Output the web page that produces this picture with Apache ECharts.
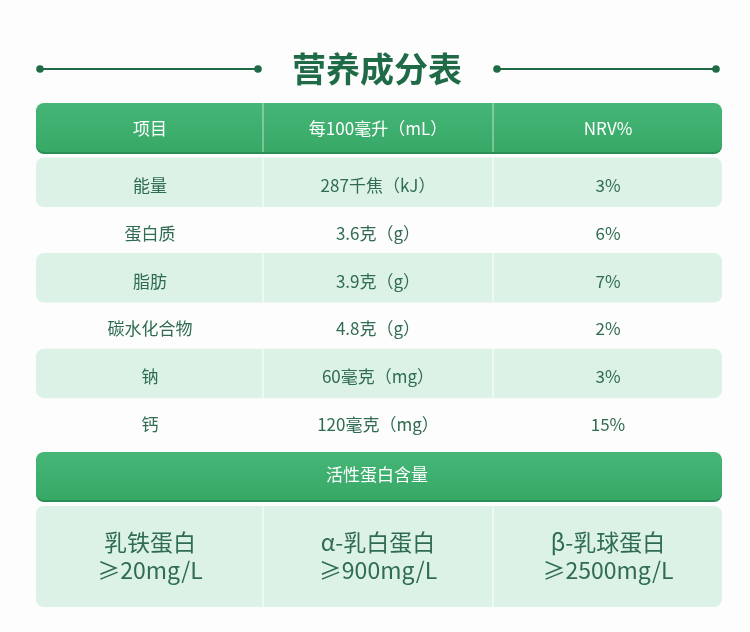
<!DOCTYPE html>
<html><head><meta charset="utf-8">
<script src="https://cdn.jsdelivr.net/npm/echarts@6/dist/echarts.min.js"></script>
<style>html,body{margin:0;padding:0;background:#fcfdfc}#c{width:750px;height:632px}</style>
</head><body><div id="c"></div>
<script>
// ---- data ----
const title = '营养成分表';
const headers = ['项目', '每100毫升（mL）', 'NRV%'];
const items = ['能量', '蛋白质', '脂肪', '碳水化合物', '钠', '钙'];
const per100 = ['287千焦（kJ）', '3.6克（g）', '3.9克（g）', '4.8克（g）', '60毫克（mg）', '120毫克（mg）'];
const nrv = ['3%', '6%', '7%', '2%', '3%', '15%'];
const activeTitle = '活性蛋白含量';
const proteins = ['乳铁蛋白', 'α-乳白蛋白', 'β-乳球蛋白'];
const proteinLevels = ['≥20mg/L', '≥900mg/L', '≥2500mg/L'];

// ---- layout / style ----
const FONT = '"Noto Sans CJK SC", "Noto Sans", sans-serif';
const X0 = 36, X1 = 722, DIV = [263, 493], COLC = [150, 378, 608];
const TXT = '#2f6c51', SHADE = '#dcf2e6', DARK = '#1f6a47';
const chart = echarts.init(document.getElementById('c'));

function greenBar(api, y0, y1) {
  const p0 = api.coord([X0, y0]), p1 = api.coord([X1, y1]);
  const w = p1[0] - p0[0], h = p1[1] - p0[1];
  return [
    { type: 'rect', shape: { x: p0[0], y: p0[1] + 2, width: w, height: h, r: 8 }, style: { fill: '#2a8f56' } },
    { type: 'rect', shape: { x: p0[0], y: p0[1], width: w, height: h, r: 8 },
      style: { fill: new echarts.graphic.LinearGradient(0, 0, 0, 1, [{ offset: 0, color: '#45b676' }, { offset: 1, color: '#37a866' }]) } }
  ];
}
function dividers(api, y0, y1, color, lw) {
  return DIV.map(x => {
    const a = api.coord([x, y0]), b = api.coord([x, y1]);
    return { type: 'line', shape: { x1: a[0], y1: a[1], x2: b[0], y2: b[1] }, style: { stroke: color, lineWidth: lw || 1 } };
  });
}
function txt(api, x, y, s, size, color, weight) {
  const p = api.coord([x, y]);
  return { type: 'text', x: p[0], y: p[1], style: { text: s, fill: color, font: (weight || 'normal') + ' ' + size + 'px ' + FONT, align: 'center', verticalAlign: 'middle' } };
}

const rowC = i => 184.5 + 47.8 * i;

chart.setOption({
  backgroundColor: '#fcfdfc',
  animation: false,
  grid: { left: 0, right: 0, top: 0, bottom: 0 },
  xAxis: { type: 'value', min: 0, max: 750, show: false },
  yAxis: { type: 'value', min: 0, max: 632, inverse: true, show: false },
  series: [
    { // title
      type: 'custom', clip: false, data: [[0]],
      renderItem: (params, api) => {
        const ch = [];
        [[40, 258], [497, 716]].forEach(([a, b]) => {
          const p = api.coord([a, 69]), q = api.coord([b, 69]);
          ch.push({ type: 'line', shape: { x1: p[0], y1: p[1], x2: q[0], y2: q[1] }, style: { stroke: DARK, lineWidth: 2 } });
          ch.push({ type: 'circle', shape: { cx: p[0], cy: p[1], r: 3.8 }, style: { fill: DARK } });
          ch.push({ type: 'circle', shape: { cx: q[0], cy: q[1], r: 3.8 }, style: { fill: DARK } });
        });
        ch.push(txt(api, 377, 69, title, 34, DARK, 'bold'));
        return { type: 'group', children: ch };
      }
    },
    { // header
      type: 'custom', clip: false, data: headers.map((h, i) => [i]),
      renderItem: (params, api) => {
        const i = api.value(0);
        let ch = [];
        if (i === 0) ch = ch.concat(greenBar(api, 103, 152), dividers(api, 103, 152, 'rgba(255,255,255,0.8)', 0.8));
        ch.push(txt(api, COLC[i], 129, headers[i], 17, '#ffffff'));
        return { type: 'group', children: ch };
      }
    },
    { // rows
      type: 'custom', clip: false, data: items.map((it, i) => [i]),
      renderItem: (params, api) => {
        const i = api.value(0), c = rowC(i);
        let ch = [];
        if (i % 2 === 0) {
          const p0 = api.coord([X0, c - 27]), p1 = api.coord([X1, c + 22.5]);
          ch.push({ type: 'rect', shape: { x: p0[0], y: p0[1], width: p1[0] - p0[0], height: p1[1] - p0[1], r: 8 }, style: { fill: SHADE } });
          ch = ch.concat(dividers(api, c - 27, c + 22.5, '#ffffff', 1));
        }
        ch.push(txt(api, COLC[0], c + 1, items[i], 17, TXT));
        ch.push(txt(api, COLC[1], c + 1, per100[i], 17, TXT));
        ch.push(txt(api, COLC[2], c + 1, nrv[i], 17, TXT));
        return { type: 'group', children: ch };
      }
    },
    { // active protein header
      type: 'custom', clip: false, data: [[0]],
      renderItem: (params, api) => {
        const ch = greenBar(api, 452, 500);
        ch.push(txt(api, 377, 475, activeTitle, 17, '#ffffff'));
        return { type: 'group', children: ch };
      }
    },
    { // proteins
      type: 'custom', clip: false, data: proteins.map((p, i) => [i]),
      renderItem: (params, api) => {
        const i = api.value(0);
        let ch = [];
        if (i === 0) {
          const p0 = api.coord([X0, 506]), p1 = api.coord([X1, 607]);
          ch.push({ type: 'rect', shape: { x: p0[0], y: p0[1], width: p1[0] - p0[0], height: p1[1] - p0[1], r: 8 }, style: { fill: SHADE } });
          ch = ch.concat(dividers(api, 506, 607, '#ffffff', 1));
        }
        ch.push(txt(api, COLC[i], 542, proteins[i], 23, TXT));
        ch.push(txt(api, COLC[i], 570, proteinLevels[i], 23, TXT));
        return { type: 'group', children: ch };
      }
    }
  ]
});
</script></body></html>
